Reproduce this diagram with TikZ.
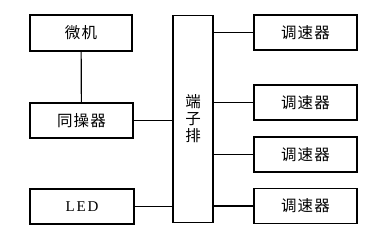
\documentclass[tikz,border=0pt]{standalone}
\usepackage{fontspec}
\newfontfamily\cjk[LetterSpace=8]{Noto Sans CJK SC}
\newfontfamily\latn[LetterSpace=12]{Liberation Serif}
\usetikzlibrary{positioning}

\begin{document}
\begin{tikzpicture}[x=1pt,y=-1pt,line width=1.2pt]
\tikzset{blk/.style={draw,inner sep=0pt,minimum width=103pt,minimum height=35pt,font=\cjk\fontsize{15.5}{17}\selectfont}}
\path[use as bounding box,fill=white] (0,0) rectangle (390,236);
% left column
\node[blk,minimum width=102pt,minimum height=36pt] (wj) at (81,33) {微机};
\node[blk] (tcq) at (81.5,120.5) {同操器};
\node[blk,minimum width=104pt,font=\latn\fontsize{15}{17}\selectfont] (led) at (82,206.5) {LED};
% terminal strip
\node[blk,minimum width=40pt,minimum height=207pt,align=center,font=\cjk\fontsize{15.5}{17}\selectfont] (dzp) at (193,119) {端\\子\\排};
% right column
\node[blk] (ts1) at (305.5,32.5) {调速器};
\node[blk] (ts2) at (305.5,102.5) {调速器};
\node[blk] (ts3) at (305.5,154.5) {调速器};
\node[blk] (ts4) at (305.5,206) {调速器};
\draw (wj) -- (tcq);
\draw (tcq) -- (tcq -| dzp.west);
\draw (led) -- (led -| dzp.west);
\draw (dzp.east |- ts1) -- (ts1);
\draw (dzp.east |- ts2) -- (ts2);
\draw (dzp.east |- ts3) -- (ts3);
\draw (dzp.east |- ts4) -- (ts4);
\end{tikzpicture}
\end{document}
